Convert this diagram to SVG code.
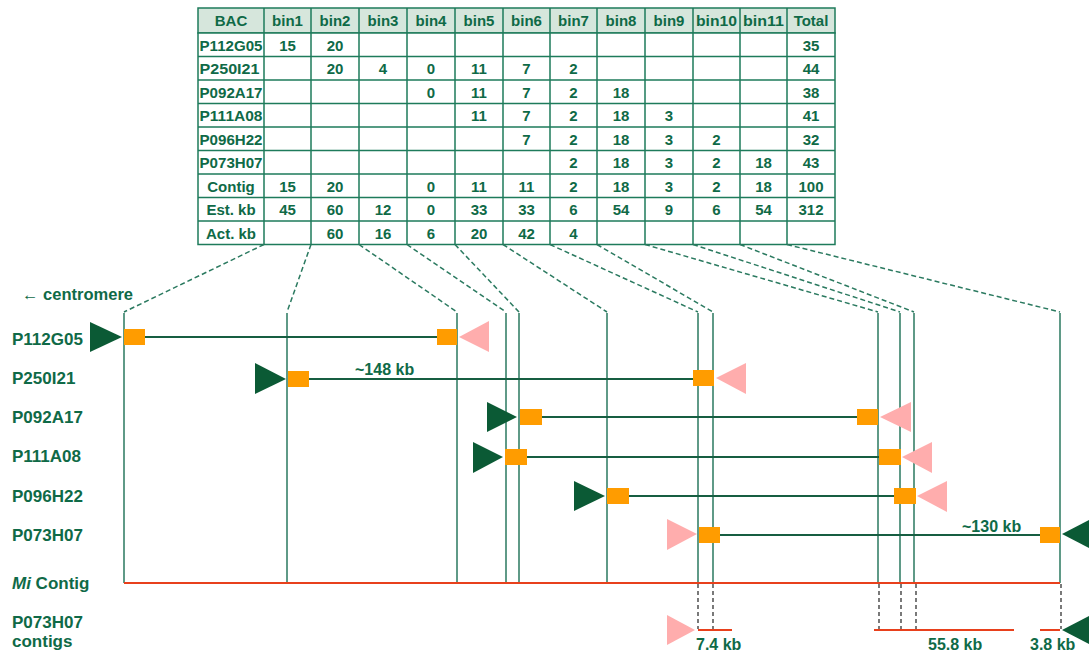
<svg xmlns="http://www.w3.org/2000/svg" width="1089" height="654" viewBox="0 0 1089 654">
  <defs>
    <style>
      .t { font-family: "Liberation Sans", Arial, sans-serif; font-weight: bold; fill: #0f6a47; }
      .tb { font-size: 15px; text-anchor: middle; }
      .tn { font-size: 15px; }
      .lbl { font-size: 17px; }
      .kb { font-size: 16px; }
      .cell { fill: #ffffff; stroke: #1e7b5b; stroke-width: 1.5; }
      .head { fill: #d6e6dc; stroke: #1e7b5b; stroke-width: 1.5; }
      .dash { fill: none; stroke: #2b7a60; stroke-width: 1.5; stroke-dasharray: 5 3; }
      .vert { stroke: #2b7a60; stroke-width: 1.5; }
      .bac { stroke: #175e41; stroke-width: 2; }
      .gdash { stroke: #333333; stroke-width: 1.3; stroke-dasharray: 4 3; }
      .red { stroke: #e8401c; stroke-width: 2.2; }
      .fwd { fill: #0b5a35; }
      .rev { fill: #ffadad; }
      .end { fill: #ff9c00; }
    </style>
  </defs>

  <!-- bin table -->
  <g id="bin-table">
    <g id="table-grid">
      <rect class="head" x="198" y="8" width="637" height="25"/>
      <path class="cell" d="M198 33H835V244.5H198Z"/>
      <path fill="none" stroke="#1e7b5b" stroke-width="1.5" d="M198 56.5H835M198 80H835M198 103.5H835M198 127H835M198 150.5H835M198 174H835M198 197.5H835M198 221H835M264 8V244.5M311 8V244.5M359 8V244.5M407 8V244.5M455 8V244.5M503 8V244.5M550 8V244.5M597 8V244.5M645 8V244.5M693 8V244.5M740 8V244.5M787 8V244.5"/>
    </g>
    <g id="table-header" class="t tb">
      <text x="231" y="26">BAC</text>
      <text x="287.5" y="26">bin1</text>
      <text x="335" y="26">bin2</text>
      <text x="383" y="26">bin3</text>
      <text x="431" y="26">bin4</text>
      <text x="479" y="26">bin5</text>
      <text x="526.5" y="26">bin6</text>
      <text x="573.5" y="26">bin7</text>
      <text x="621" y="26">bin8</text>
      <text x="669" y="26">bin9</text>
      <text x="716.5" y="26" textLength="41" lengthAdjust="spacingAndGlyphs">bin10</text>
      <text x="763.5" y="26" textLength="41" lengthAdjust="spacingAndGlyphs">bin11</text>
      <text x="811" y="26">Total</text>
    </g>
    <g id="table-names" class="t tn">
      <text x="199.5" y="50.5" textLength="63" lengthAdjust="spacingAndGlyphs">P112G05</text>
      <text x="199.5" y="74" textLength="60" lengthAdjust="spacingAndGlyphs">P250I21</text>
      <text x="199.5" y="97.5" textLength="63" lengthAdjust="spacingAndGlyphs">P092A17</text>
      <text x="199.5" y="121" textLength="63" lengthAdjust="spacingAndGlyphs">P111A08</text>
      <text x="199.5" y="144.5" textLength="63" lengthAdjust="spacingAndGlyphs">P096H22</text>
      <text x="199.5" y="168" textLength="63" lengthAdjust="spacingAndGlyphs">P073H07</text>
    </g>
    <g id="table-values" class="t tb">
      <!-- P112G05 -->
      <text x="287.5" y="50.5">15</text><text x="335" y="50.5">20</text><text x="811" y="50.5">35</text>
      <!-- P250I21 -->
      <text x="335" y="74">20</text><text x="383" y="74">4</text><text x="431" y="74">0</text>
      <text x="479" y="74">11</text><text x="526.5" y="74">7</text><text x="573.5" y="74">2</text>
      <text x="811" y="74">44</text>
      <!-- P092A17 -->
      <text x="431" y="97.5">0</text><text x="479" y="97.5">11</text><text x="526.5" y="97.5">7</text>
      <text x="573.5" y="97.5">2</text><text x="621" y="97.5">18</text><text x="811" y="97.5">38</text>
      <!-- P111A08 -->
      <text x="479" y="121">11</text><text x="526.5" y="121">7</text><text x="573.5" y="121">2</text>
      <text x="621" y="121">18</text><text x="669" y="121">3</text><text x="811" y="121">41</text>
      <!-- P096H22 -->
      <text x="526.5" y="144.5">7</text><text x="573.5" y="144.5">2</text><text x="621" y="144.5">18</text>
      <text x="669" y="144.5">3</text><text x="716.5" y="144.5">2</text><text x="811" y="144.5">32</text>
      <!-- P073H07 -->
      <text x="573.5" y="168">2</text><text x="621" y="168">18</text><text x="669" y="168">3</text>
      <text x="716.5" y="168">2</text><text x="763.5" y="168">18</text><text x="811" y="168">43</text>
      <!-- Contig -->
      <text x="231" y="191.5">Contig</text>
      <text x="287.5" y="191.5">15</text><text x="335" y="191.5">20</text><text x="431" y="191.5">0</text>
      <text x="479" y="191.5">11</text><text x="526.5" y="191.5">11</text><text x="573.5" y="191.5">2</text>
      <text x="621" y="191.5">18</text><text x="669" y="191.5">3</text><text x="716.5" y="191.5">2</text>
      <text x="763.5" y="191.5">18</text><text x="811" y="191.5">100</text>
      <!-- Est. kb -->
      <text x="231" y="215">Est. kb</text>
      <text x="287.5" y="215">45</text><text x="335" y="215">60</text><text x="383" y="215">12</text>
      <text x="431" y="215">0</text><text x="479" y="215">33</text><text x="526.5" y="215">33</text>
      <text x="573.5" y="215">6</text><text x="621" y="215">54</text><text x="669" y="215">9</text>
      <text x="716.5" y="215">6</text><text x="763.5" y="215">54</text><text x="811" y="215">312</text>
      <!-- Act. kb -->
      <text x="231" y="238.5">Act. kb</text>
      <text x="335" y="238.5">60</text><text x="383" y="238.5">16</text><text x="431" y="238.5">6</text>
      <text x="479" y="238.5">20</text><text x="526.5" y="238.5">42</text><text x="573.5" y="238.5">4</text>
    </g>
  </g>

  <!-- connectors: bin boundaries projected onto the contig, and BAC spans -->
  <g id="connectors">
    <path class="dash" d="M264 244.5L124 312M311 244.5L287 312M359 244.5L457 312M407 244.5L506 312M455 244.5L519 312M503 244.5L607 312M550 244.5L698 312M597 244.5L713 312M645 244.5L878 312M693 244.5L900 312M740 244.5L914 312M787 244.5L1060 312"/>
    <path class="vert" d="M124 313V583M287 313V583M457 313V583M506 313V583M519 313V583M607 313V583M698 313V583M713 313V583M878 313V583M900 313V583M914 313V583M1060 313V583"/>
    <path class="bac" d="M145 337H437M309 379H693M542 417H857M527 457H879M629 496H894M720 535H1040"/>
    <path class="red" d="M124 583H1060"/>
    <path class="gdash" d="M698 584V629M713 584V629M879 584V629M901 584V629M916 584V629M1061 584V629"/>
    <path class="red" d="M698 630H732M874 630H1014M1040 630H1060"/>
  </g>

  <!-- row labels -->
  <g id="labels" class="t lbl">
    <text x="22" y="300" font-size="16" textLength="111" lengthAdjust="spacingAndGlyphs">← centromere</text>
    <text x="12" y="345">P112G05</text>
    <text x="12" y="384">P250I21</text>
    <text x="12" y="423">P092A17</text>
    <text x="12" y="462">P111A08</text>
    <text x="12" y="502">P096H22</text>
    <text x="12" y="541">P073H07</text>
    <text x="12" y="589"><tspan font-style="italic">Mi</tspan> Contig</text>
    <text x="12" y="628">P073H07</text>
    <text x="12" y="647">contigs</text>
  </g>

  <g id="bac-P112G05">
    <polygon class="fwd" points="90,322 90,352 122,337"/>
    <rect class="end" x="124" y="329" width="21" height="16"/>
    <rect class="end" x="437" y="329" width="20" height="16"/>
    <polygon class="rev" points="459,337 489,321 489,352"/>
  </g>

  <g id="bac-P250I21">
    <polygon class="fwd" points="255,363 255,394 286,379"/>
    <rect class="end" x="288" y="371" width="21" height="16"/>
    <rect class="end" x="693" y="370" width="21" height="16"/>
    <polygon class="rev" points="716,378 746,363 746,394"/>
    <text class="t kb" x="355" y="375">~148 kb</text>
  </g>

  <g id="bac-P092A17">
    <polygon class="fwd" points="487,402 487,432 517,417"/>
    <rect class="end" x="520" y="409" width="22" height="16"/>
    <rect class="end" x="857" y="409" width="21" height="16"/>
    <polygon class="rev" points="880,417 911,402 911,432"/>
  </g>

  <g id="bac-P111A08">
    <polygon class="fwd" points="473,442 473,473 503,457"/>
    <rect class="end" x="505" y="449" width="22" height="16"/>
    <rect class="end" x="879" y="449" width="22" height="16"/>
    <polygon class="rev" points="902,457 932,442 932,473"/>
  </g>

  <g id="bac-P096H22">
    <polygon class="fwd" points="574,481 574,511 605,496"/>
    <rect class="end" x="607" y="488" width="22" height="16"/>
    <rect class="end" x="894" y="488" width="22" height="16"/>
    <polygon class="rev" points="917,496 947,481 947,512"/>
  </g>

  <g id="bac-P073H07">
    <polygon class="rev" points="667,519 667,550 697,534"/>
    <rect class="end" x="699" y="527" width="21" height="16"/>
    <rect class="end" x="1040" y="527" width="20" height="16"/>
    <polygon class="fwd" points="1062,534 1093,518 1093,550"/>
    <text class="t kb" x="962" y="532">~130 kb</text>
  </g>

  <g id="p073h07-contigs">
    <polygon class="rev" points="667,615 667,645 695,630"/>
    <polygon class="fwd" points="1062,630 1093,614 1093,646"/>
    <text class="t kb" x="696" y="650">7.4 kb</text>
    <text class="t kb" x="928" y="650">55.8 kb</text>
    <text class="t kb" x="1030" y="650">3.8 kb</text>
  </g>
</svg>
